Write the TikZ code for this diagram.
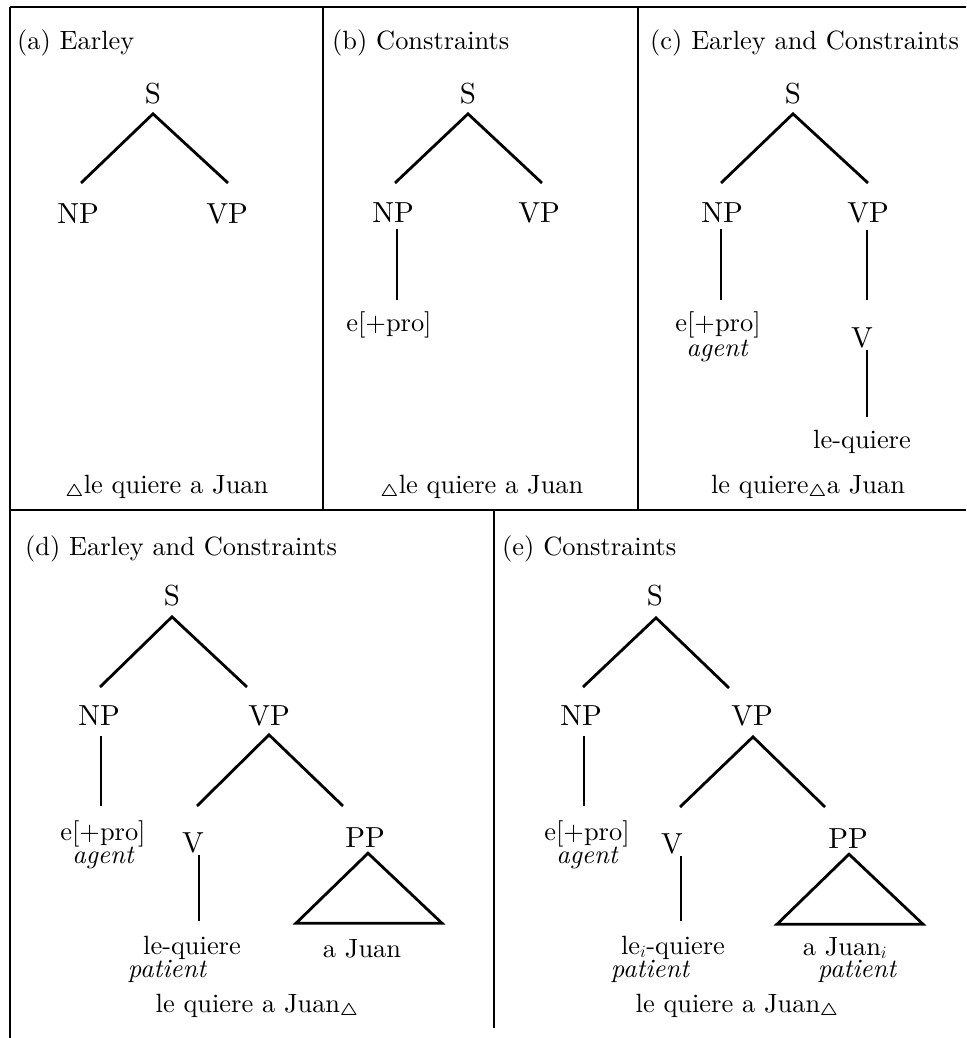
\documentclass[tikz,border=0pt]{standalone}
\usepackage{amsmath}
\usepackage{fontspec}
\setmainfont{lmroman10}[Extension=.otf, UprightFont=*-regular, ItalicFont=*-italic, BoldFont=*-bold, BoldItalicFont=*-bolditalic]
\newcommand\catfont{\fontsize{29}{32}\selectfont}
\newcommand\txtfont{\fontsize{26.4}{30}\selectfont}
\newcommand\gap{$_{\boldsymbol{\triangle}}$}
\tikzset{
  cat/.style={font=\catfont, inner sep=0pt, anchor=base},
  txt/.style={font=\txtfont, inner sep=0pt, anchor=base},
  ttl/.style={font=\txtfont, inner sep=0pt, anchor=base west},
  role/.style={font=\txtfont\itshape, inner sep=0pt, anchor=base},
  branch/.style={line width=2.8pt, line join=miter},
  frame/.style={line width=2.4pt},
}
\begin{document}
\begin{tikzpicture}[x=1pt,y=-1pt]
\useasboundingbox (0,0) rectangle (966,1038);
% frame
\draw[frame] (10,7) -- (966,7);
\draw[frame] (10,7) -- (10,1038);
\draw[frame] (10,510) -- (966,510);
\draw[frame] (323,7) -- (323,510);
\draw[frame] (638,7) -- (638,510);
\draw[frame] (494,510) -- (494,1028);

% ---------- (a)
\node[ttl] (aT) at (17,50) {(a) Earley};
\node[cat] (aS) at (153,103) {S};
\node[cat] (aNP) at (78,223) {NP};
\node[cat] (aVP) at (227,223) {VP};
\draw[branch] ([xshift=3pt,yshift=20pt]aNP.north) -- ([yshift=-10pt]aS.south) -- ([xshift=1pt,yshift=20pt]aVP.north);
\node[txt] (aB) at (167,493) {\gap le quiere a Juan};

% ---------- (b)
\node[ttl] (bT) at (332,50) {(b) Constraints};
\node[cat] (bS) at (468,103) {S};
\node[cat] (bNP) at (393,222) {NP};
\node[cat] (bVP) at (539,222) {VP};
\draw[branch] ([xshift=2pt,yshift=19pt]bNP.north) -- ([yshift=-10pt]bS.south) -- ([xshift=3pt,yshift=19pt]bVP.north);
\node[txt] (bE) at (389,331) {e[+pro]};
\draw[branch] ([xshift=4pt,yshift=-7pt]bNP.south) -- ([xshift=8pt,yshift=11pt]bE.north);
\node[txt] (bB) at (482,493) {\gap le quiere a Juan};

% ---------- (c)
\node[ttl] (cT) at (650,50) {(c) Earley and Constraints};
\node[cat] (cS) at (793,103) {S};
\node[cat] (cNP) at (722,222) {NP};
\node[cat] (cVP) at (868,222) {VP};
\draw[branch] ([xshift=-1pt,yshift=19pt]cNP.north) -- ([yshift=-10pt]cS.south) -- ([yshift=19pt]cVP.north);
\node[txt] (cE) at (718,331) {e[+pro]};
\node[role] (cA) at (717,356) {agent};
\draw[branch] ([xshift=-1pt,yshift=-7pt]cNP.south) -- ([xshift=3pt,yshift=11pt]cE.north);
\node[cat] (cV) at (862,347) {V};
\draw[branch] ([xshift=-1pt,yshift=-7pt]cVP.south) -- ([xshift=5pt,yshift=27pt]cV.north);
\node[txt] (cL) at (862,448) {le-quiere};
\draw[branch] ([xshift=5pt,yshift=-2pt]cV.south) -- ([xshift=5pt,yshift=12pt]cL.north);
\node[txt] (cB) at (808,493) {le quiere\gap a Juan};

% ---------- (d)
\node[ttl] (dT) at (25,555) {(d) Earley and Constraints};
\node[cat] (dS) at (172,605) {S};
\node[cat] (dNP) at (99,725) {NP};
\node[cat] (dVP) at (269,725) {VP};
\draw[branch] ([xshift=1pt,yshift=18pt]dNP.north) -- ([yshift=-11pt]dS.south) -- ([xshift=-22pt,yshift=18pt]dVP.north);
\node[txt] (dE) at (103,840) {e[+pro]};
\node[role] (dA) at (103,863) {agent};
\draw[branch] ([xshift=2pt,yshift=-11pt]dNP.south) -- ([xshift=-2pt,yshift=14pt]dE.north);
\node[cat] (dV) at (193,852) {V};
\node[cat] (dPP) at (365,847) {PP};
\draw[branch] ([xshift=4pt,yshift=26pt]dV.north) -- ([yshift=-9pt]dVP.south) -- ([xshift=-22pt,yshift=21pt]dPP.north);
\node[txt] (dL) at (192,954) {le-quiere};
\node[role] (dLr) at (167,977) {patient};
\draw[branch] ([xshift=6pt,yshift=-2pt]dV.south) -- ([xshift=7pt,yshift=14pt]dL.north);
\draw[branch] ([xshift=3pt,yshift=-6pt]dPP.south) -- ([xshift=-69pt,yshift=-76pt]dPP.south) -- ([xshift=77pt,yshift=-76pt]dPP.south) -- cycle;
\node[txt] (dJ) at (362,957) {a Juan};
\node[txt] (dB) at (257,1012) {le quiere a Juan\gap};

% ---------- (e)
\node[ttl] (eT) at (502,555) {(e) Constraints};
\node[cat] (eS) at (655,605) {S};
\node[cat] (eNP) at (581,725) {NP};
\node[cat] (eVP) at (752,725) {VP};
\draw[branch] ([xshift=2pt,yshift=18pt]eNP.north) -- ([xshift=1pt,yshift=-12pt]eS.south) -- ([xshift=-23pt,yshift=17pt]eVP.north);
\node[txt] (eE) at (587,840) {e[+pro]};
\node[role] (eA) at (587,863) {agent};
\draw[branch] ([xshift=3pt,yshift=-11pt]eNP.south) -- ([xshift=-3pt,yshift=14pt]eE.north);
\node[cat] (eV) at (672,853) {V};
\node[cat] (ePP) at (848,848) {PP};
\draw[branch] ([xshift=8pt,yshift=26pt]eV.north) -- ([xshift=1pt,yshift=-11pt]eVP.south) -- ([xshift=-23pt,yshift=21pt]ePP.north);
\node[txt] (eL) at (673,954) {le$_i$-quiere};
\node[role] (eLr) at (650,977) {patient};
\draw[branch] ([xshift=9pt,yshift=-2pt]eV.south) -- ([xshift=8pt,yshift=14pt]eL.north);
\draw[branch] ([xshift=1pt,yshift=-6pt]ePP.south) -- ([xshift=-71pt,yshift=-76pt]ePP.south) -- ([xshift=75pt,yshift=-76pt]ePP.south) -- cycle;
\node[txt] (eJ) at (845,955) {a Juan$_i$};
\node[role] (eJr) at (857,977) {patient};
\node[txt] (eB) at (737,1012) {le quiere a Juan\gap};
\end{tikzpicture}
\end{document}
